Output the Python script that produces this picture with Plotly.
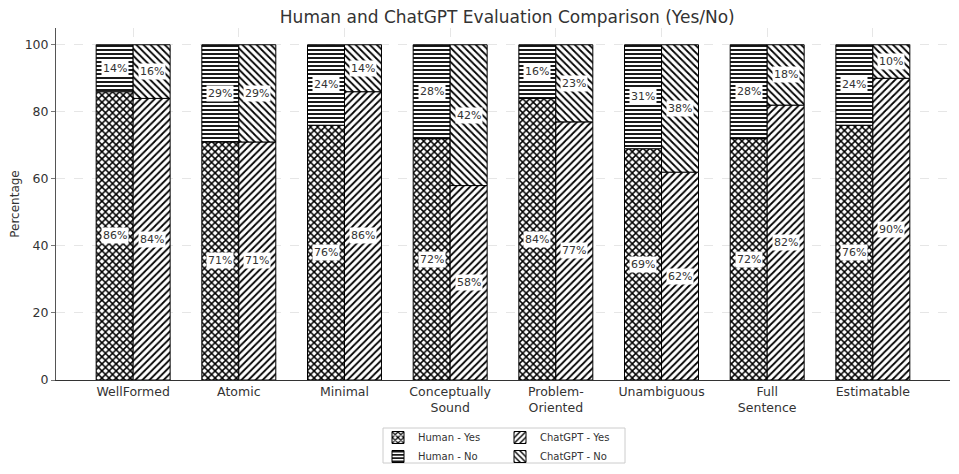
import plotly.graph_objects as go

categories = ["WellFormed", "Atomic", "Minimal", "Conceptually<br>Sound", "Problem-<br>Oriented",
              "Unambiguous", "Full<br>Sentence", "Estimatable"]
human_yes = [86, 71, 76, 72, 84, 69, 72, 76]
human_no = [14, 29, 24, 28, 16, 31, 28, 24]
chatgpt_yes = [84, 71, 86, 58, 77, 62, 82, 90]
chatgpt_no = [16, 29, 14, 42, 23, 38, 18, 10]

W = 0.35
idx = list(range(len(categories)))
xh = [i - W / 2 for i in idx]
xc = [i + W / 2 for i in idx]

font = "DejaVu Sans"
fig = go.Figure()

def add(name, x, y, shape, size, solidity, legend):
    fig.add_trace(go.Bar(
        name=name, x=x, y=y, width=W, legend=legend,
        marker=dict(color="white", line=dict(color="black", width=1),
                    pattern=dict(shape=shape, fgcolor="#000000", fgopacity=1, bgcolor="white",
                                 size=size, solidity=solidity, fillmode="replace")),
        hoverinfo="y",
    ))

add("Human - Yes", xh, human_yes, "x", 5, 0.5, "legend")
add("Human - No", xh, human_no, "-", 4, 0.45, "legend")
add("ChatGPT - Yes", xc, chatgpt_yes, "/", 5, 0.35, "legend2")
add("ChatGPT - No", xc, chatgpt_no, "\\", 5, 0.35, "legend2")

ann = []
def label(xs, bases, vals):
    for x, b, v in zip(xs, bases, vals):
        ann.append(dict(x=x, y=b + v / 2, text=f"{v}%", showarrow=False,
                        bgcolor="white", borderpad=1,
                        font=dict(family=font, size=11, color="#333")))

label(xh, [0] * 8, human_yes)
label(xh, human_yes, human_no)
label(xc, [0] * 8, chatgpt_yes)
label(xc, chatgpt_yes, chatgpt_no)

OFF = 8  # page body margin
FW, FH = 959 - OFF, 474 - OFF
PL, PR, PT, PB = 56, 950, 28, 380  # page coords of plot area
def px(x):
    return (x - PL) / (PR - PL)
def py(y):
    return (PB - y) / (PB - PT)

leg_common = dict(orientation="v", yanchor="top", xanchor="left",
                  font=dict(size=10, color="#333"), bgcolor="rgba(0,0,0,0)",
                  borderwidth=0, itemwidth=30, tracegroupgap=0)

fig.update_layout(
    barmode="relative",
    width=FW, height=FH,
    margin=dict(l=PL - OFF, r=FW - (PR - OFF), t=PT - OFF, b=FH - (PB - OFF), autoexpand=False),
    paper_bgcolor="white", plot_bgcolor="white",
    font=dict(family=font, color="#333", size=12),
    title=dict(text="Human and ChatGPT Evaluation Comparison (Yes/No)", x=0.525, xanchor="center",
               y=1 - (17 - OFF) / FH, yanchor="middle", font=dict(size=17, color="#333")),
    annotations=ann,
    legend=dict(x=px(378), y=py(423), **leg_common),
    legend2=dict(x=px(500), y=py(423), **leg_common),
    shapes=[dict(type="rect", xref="paper", yref="paper", x0=px(383), x1=px(625),
                 y0=py(463), y1=py(428), line=dict(color="#cccccc", width=1))],
    showlegend=True,
)
fig.update_xaxes(tickmode="array", tickvals=idx, ticktext=categories, range=[-0.73, 7.73],
                 showline=True, linecolor="#333", linewidth=1, ticks="",
                 showgrid=True, gridcolor="#e6e6e6", griddash="dash",
                 tickfont=dict(size=12.5), zeroline=False, automargin=False)
fig.update_yaxes(range=[0, 105], tickvals=[0, 20, 40, 60, 80, 100],
                 showline=True, linecolor="#555", linewidth=1, ticks="outside", ticklen=4,
                 tickcolor="#777", showgrid=True, gridcolor="#e6e6e6", griddash="dash",
                 title=dict(text="Percentage", font=dict(size=12), standoff=8),
                 tickfont=dict(size=12.5), zeroline=False, automargin=False)

fig.write_html("out.html")
